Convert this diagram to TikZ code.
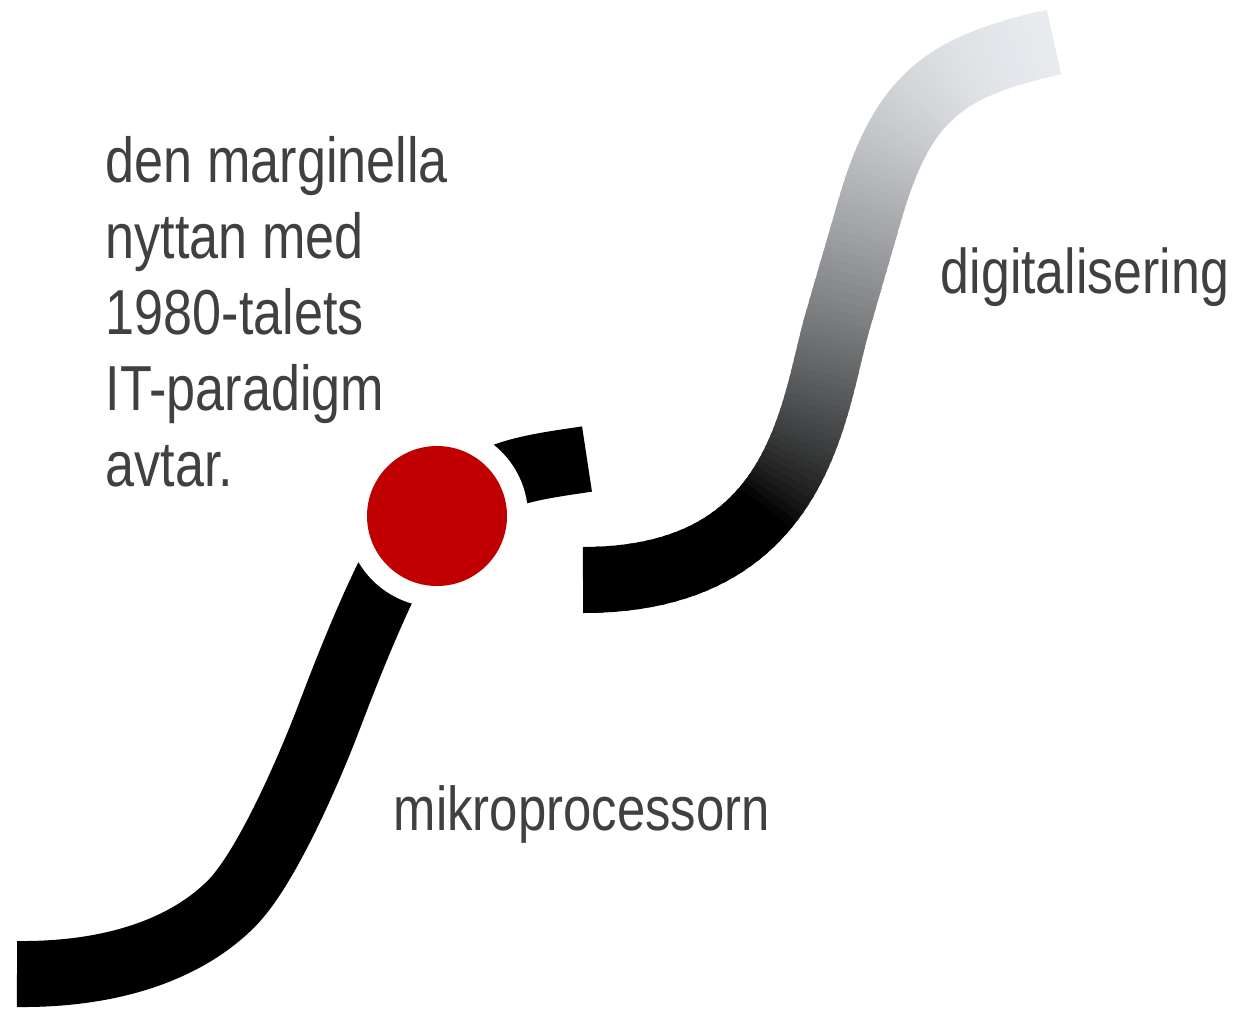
\documentclass[tikz,border=0pt]{standalone}
\usepackage{fontspec}
\newfontfamily\narrowsans[FakeStretch=0.82]{Liberation Sans}
\definecolor{txtgray}{RGB}{64,64,64}
\definecolor{dotred}{RGB}{192,0,0}
\definecolor{topc}{RGB}{243,246,250}
% cubic Bezier point and derivative
\newcommand\gcPoint[5]{\pgfmathparse{(1-#1)^3*(#2)+3*(1-#1)^2*#1*(#3)+3*(1-#1)*#1^2*(#4)+#1^3*(#5)}}
\newcommand\gcDeriv[5]{\pgfmathparse{3*(1-#1)^2*((#3)-(#2))+6*(1-#1)*#1*((#4)-(#3))+3*#1^2*((#5)-(#4))}}
\def\gcTmax{1}
% gradient-coloured cubic, cut into #9 pieces
\newcommand\gradCubic[9]{%
  \foreach \k in {1,...,#9}{%
    \pgfmathsetmacro\ta{(\k-1)/#9}%
    \pgfmathsetmacro\tb{min(\gcTmax,(\k+0.5)/#9)}%
    \gcPoint{\ta}{#1}{#3}{#5}{#7}\let\xa\pgfmathresult
    \gcPoint{\ta}{#2}{#4}{#6}{#8}\let\ya\pgfmathresult
    \gcPoint{\tb}{#1}{#3}{#5}{#7}\let\xb\pgfmathresult
    \gcPoint{\tb}{#2}{#4}{#6}{#8}\let\yb\pgfmathresult
    \gcDeriv{\ta}{#1}{#3}{#5}{#7}\let\dxa\pgfmathresult
    \gcDeriv{\ta}{#2}{#4}{#6}{#8}\let\dya\pgfmathresult
    \gcDeriv{\tb}{#1}{#3}{#5}{#7}\let\dxb\pgfmathresult
    \gcDeriv{\tb}{#2}{#4}{#6}{#8}\let\dyb\pgfmathresult
    \pgfmathsetmacro\hh{(\tb-\ta)/3}%
    \pgfmathsetmacro\cax{\xa+\hh*\dxa}%
    \pgfmathsetmacro\cay{\ya+\hh*\dya}%
    \pgfmathsetmacro\cbx{\xb-\hh*\dxb}%
    \pgfmathsetmacro\cby{\yb-\hh*\dyb}%
    \pgfmathsetmacro\ym{(\ya+\yb)/2}%
    \pgfmathsetmacro\ss{max(0.0001,min(1,(505-\ym)/495))}%
    \pgfmathsetmacro\pc{100*\ss^0.7}%
    \colorlet{segcol}{topc!\pc!black}%
    \draw[curvestroke, draw=segcol] (\xa,\ya) .. controls (\cax,\cay) and (\cbx,\cby) .. (\xb,\yb);
  }%
}
\begin{document}
\begin{tikzpicture}[x=0.5pt, y=-0.5pt,
  curvestroke/.style={line width=33pt, line cap=butt},
  label/.style={inner sep=0pt, anchor=base west, text=txtgray, align=left}]
\useasboundingbox (0,0) rectangle (1238,1009);
% rising gradient curve (digitalisering)
\coordinate (g0) at (583,580);
\coordinate (g3) at (1054,42);
\def\gcTmax{1.03}
\gradCubic{583}{580}{803}{580}{812.8}{406.4}{838}{320}{50}
\gradCubic{838}{320}{848.67}{283.2}{859.33}{246.4}{870}{209.6}{12}
\def\gcTmax{1}
\gradCubic{870}{209.6}{903.2}{94.9}{946.2}{66.1}{1054}{42}{50}
% black curve (mikroprocessorn)
\coordinate (b0) at (17,974);
\coordinate (b1) at (587,459);
\draw[curvestroke, black] (b0) .. controls (120,975) and (190,945) .. (231,904)
  .. controls (268,867) and (313,760) .. (331,712)
  .. controls (347,670) and (365.6,623.5) .. (385,583)
  .. controls (406.5,538) and (462.5,489.5) .. (510,474)
  .. controls (533.8,466.3) and (562.3,462.8) .. (b1);
% dot with white ring
\node[circle, fill=white, inner sep=0pt, minimum size=91pt] (ring) at (437,516) {};
\node[circle, fill=dotred, inner sep=0pt, minimum size=70pt] (dot) at (ring.center) {};
% texts
\node[label, font=\narrowsans\fontsize{31.8pt}{38pt}\selectfont] (margin) at (105.5,486.7)
  {den marginella\\nyttan med\\1980-talets\\IT-paradigm\\avtar.};
\node[label, font=\narrowsans\fontsize{31pt}{36pt}\selectfont] (mikro) at (393.5,830.5) {mikroprocessorn};
\node[label, font=\narrowsans\fontsize{31.6pt}{36pt}\selectfont] (digi) at (940.5,293.3) {digitalisering};
\end{tikzpicture}
\end{document}
